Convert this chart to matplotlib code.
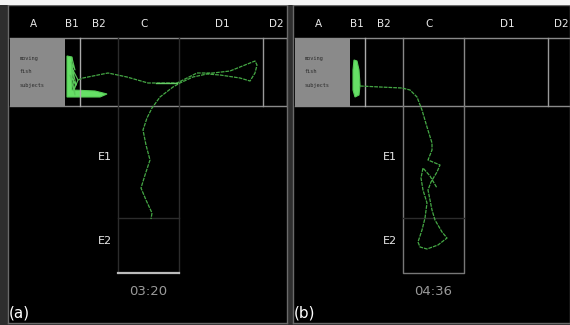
import matplotlib.pyplot as plt
from matplotlib.patches import Rectangle, Polygon

## Arena layout (pixel units of one panel)
zone_names = ["A", "B1", "B2", "C", "D1", "D2"]
zone_label_x = [33, 72, 99, 144, 222, 276]
zone_edges = [10, 65, 80, 118, 179, 263, 287]
corridor_y = [38, 106]
arm_mid_y = 218
arm_bottom_y = 273
box_text = ["moving", "fish", "subjects"]
box_text_y = [59, 72, 86]
arm_names = ["E1", "E2"]
arm_label_y = [157, 241]

## Panel (a) track
blob_a_x = [67, 72, 72, 95, 107, 100, 67]
blob_a_y = [56, 57, 90, 91, 94, 97, 97]
scrib_a_x = [72, 75, 71, 76, 70, 75, 72, 78, 74]
scrib_a_y = [58, 70, 62, 85, 75, 95, 68, 80, 90]
track_a_x = [78, 83, 108, 127, 148, 177, 197, 213, 230, 255, 257, 255, 250,
             240, 220, 207, 193, 180, 173, 160, 152, 147, 143, 146, 150,
             145, 141, 146, 152, 151]
track_a_y = [80, 78, 73, 77, 83, 83, 73, 73, 71, 61, 65, 73, 81,
             78, 75, 74, 77, 83, 87, 97, 108, 118, 130, 145, 160,
             175, 188, 200, 213, 219]
fast_a_x = [156, 177]
fast_a_y = [83, 83]
time_a = "03:20"

## Panel (b) track
blob_b_x = [69, 72, 74, 75, 74, 70, 68, 68]
blob_b_y = [60, 61, 70, 85, 95, 97, 90, 70]
track_b_x = [75, 95, 117, 125, 132, 137, 142, 147, 147, 143, 155, 152, 146,
             143, 145, 147, 150, 157, 162, 153, 142, 135, 133, 137, 140,
             142, 138, 136, 138, 145, 152]
track_b_y = [86, 87, 88, 90, 97, 110, 127, 143, 150, 160, 165, 172, 182,
             190, 200, 210, 220, 232, 238, 245, 249, 247, 242, 230, 218,
             203, 190, 178, 168, 176, 188]
time_b = "04:36"

W, H = 570, 325
fig = plt.figure(figsize=(5.7, 3.25), dpi=100, facecolor='#2e2e2e')
fig.add_artist(Rectangle((0, 1 - 5 / H), 1, 5 / H, transform=fig.transFigure,
                         facecolor='#f4f4f4', edgecolor='none'))


def draw_panel(left_px, right_px, xmax, bright, blob_x, blob_y, tx, ty,
               tag, tlabel, scrib=None, fast=None):
    ax = fig.add_axes([left_px / W, 2 / H, (right_px - left_px) / W, 318 / H])
    ax.set_facecolor('black')
    ax.set_xlim(8, xmax)
    ax.set_ylim(323, 5)
    ax.set_xticks([])
    ax.set_yticks([])
    for s in ax.spines.values():
        s.set_color('#6a6a6a')
        s.set_linewidth(1)

    x0, x1 = zone_edges[0], zone_edges[-1]
    ax.add_patch(Rectangle((x0, corridor_y[0]), zone_edges[1] - x0,
                           corridor_y[1] - corridor_y[0],
                           facecolor='#8a8a8a', edgecolor='none'))
    ax.plot([x0, x1], [corridor_y[0]] * 2, color='#8a8a8a', lw=1)
    ax.plot([x0, x1], [corridor_y[1]] * 2, color='#8a8a8a', lw=1)
    ax.plot([x1, x1], corridor_y, color='#9a9a9a', lw=1)
    ax.plot([zone_edges[2]] * 2, corridor_y, color='#aaaaaa', lw=1)
    ax.plot([zone_edges[5]] * 2, corridor_y, color='#999999', lw=1)

    cl, cr = zone_edges[3], zone_edges[4]
    if bright:
        ax.plot([cl, cl], corridor_y, color='#888888', lw=1)
        ax.plot([cr, cr], corridor_y, color='#888888', lw=1)
        ax.plot([cl, cl, cr, cr], [corridor_y[1], arm_bottom_y, arm_bottom_y,
                                   corridor_y[1]], color='#777777', lw=1)
    else:
        ax.plot([cl, cl], [corridor_y[0], arm_bottom_y], color='#2c2c2c', lw=1)
        ax.plot([cr, cr], [corridor_y[0], arm_bottom_y], color='#2c2c2c', lw=1)
        ax.plot([cl, cr], [arm_bottom_y] * 2, color='#bbbbbb', lw=1.6)
    ax.plot([cl, cr], [arm_mid_y] * 2, color='#2c2c2c', lw=1)

    for name, lx in zip(zone_names, zone_label_x):
        ax.text(lx, 24, name, color='#e8e8e8', fontsize=7.5,
                ha='center', va='center')
    for t, ty_ in zip(box_text, box_text_y):
        ax.text(20, ty_, t, color='#2a2a2a', fontsize=3.8, family='DejaVu Sans Mono',
                ha='left', va='center')
    for name, ly in zip(arm_names, arm_label_y):
        ax.text(105, ly, name, color='#e8e8e8', fontsize=8,
                ha='center', va='center')

    ax.add_patch(Polygon(list(zip(blob_x, blob_y)), closed=True,
                         facecolor='#66e066', edgecolor='#55cc55', lw=0.8))
    if scrib is not None:
        ax.plot(scrib[0], scrib[1], color='#5ac85a', lw=0.8)
    ax.plot(tx, ty, color='#45a845', lw=0.9, dashes=(3, 0.8))
    if fast is not None:
        ax.plot(fast[0], fast[1], color='#66cc66', lw=1)

    ax.text(148, 292, tlabel, color='#9a9a9a', fontsize=9.5,
            ha='center', va='center')
    ax.text(9, 313, tag, color='white', fontsize=11, ha='left', va='center')
    return ax


draw_panel(8, 287, 287, False, blob_a_x, blob_a_y, track_a_x, track_a_y,
           "(a)", time_a, scrib=(scrib_a_x, scrib_a_y), fast=(fast_a_x, fast_a_y))
draw_panel(293, 570, 285, True, blob_b_x, blob_b_y, track_b_x, track_b_y,
           "(b)", time_b)

plt.savefig('out.png', dpi=100, facecolor=fig.get_facecolor())
